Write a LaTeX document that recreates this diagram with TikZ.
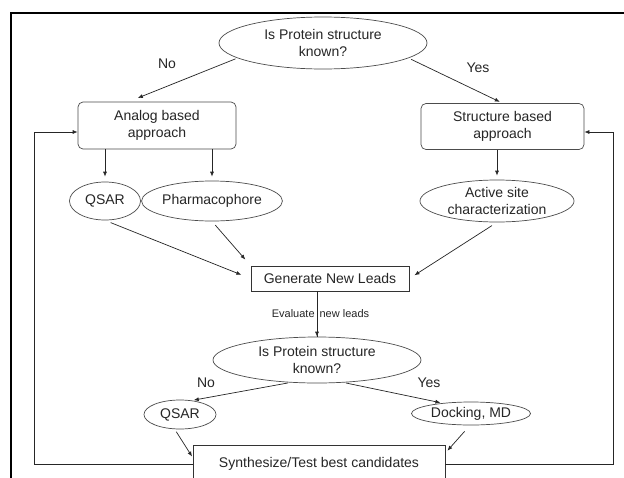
\documentclass[tikz,border=0pt]{standalone}
\usepackage{fontspec}
\setmainfont{Liberation Sans}
\usetikzlibrary{shapes.geometric,arrows.meta,calc}
\begin{document}
\begin{tikzpicture}[x=1pt,y=-1pt,
 every node/.style={font=\fontsize{14}{17}\selectfont, text=black!85},
 ell/.style={ellipse, draw=black!70, line width=0.7pt, inner sep=0pt, align=center},
 rbox/.style={rectangle, rounded corners=5pt, draw=black!70, line width=0.7pt, align=center, inner sep=0pt},
 sbox/.style={rectangle, draw=black!80, line width=0.8pt, inner sep=0pt},
 arr/.style={draw=black!85, line width=0.7pt, -{Latex[length=5pt,width=4pt]}},
 lbl/.style={font=\fontsize{14}{17}\selectfont},
 small/.style={font=\fontsize{11}{13}\selectfont, fill=white, inner sep=1pt},
]
\useasboundingbox (0,0) rectangle (624,477);
\clip (0,0) rectangle (624,477);
\fill[white] (0,0) rectangle (624,477);
\draw[line width=2pt, black] (11,490) -- (11,13) -- (640,13);

% nodes
\node[ell, minimum width=208pt, minimum height=52pt] (q1) at (323,43) {Is Protein structure\\known?};
\node[rbox, minimum width=158pt, minimum height=47pt] (analog) at (157,125.5) {Analog based\\approach};
\node[rbox, minimum width=163pt, minimum height=46pt] (struct) at (502.5,126.5) {Structure based\\approach};
\node[ell, minimum width=71pt, minimum height=38pt] (qsar1) at (105,201) {QSAR};
\node[ell, minimum width=130pt, minimum height=40pt] (pharm) at (212,201) {Pharmacophore};
\node[ell, minimum width=154pt, minimum height=42pt] (active) at (497,201) {Active site\\characterization};
\node[sbox, minimum width=158pt, minimum height=25pt] (gen) at (330,278.5) {Generate New Leads};
\node[ell, minimum width=208pt, minimum height=46pt] (q2) at (317,360) {Is Protein structure\\known?};
\node[ell, minimum width=72pt, minimum height=29pt] (qsar2) at (180,414.5) {QSAR};
\node[ell, minimum width=119pt, minimum height=23pt] (dock) at (471,413.5) {Docking, MD};
\node[sbox, minimum width=252pt, minimum height=38pt] (synth) at (319,464) {Synthesize/Test best candidates};

\coordinate (fbL) at (34,132);
\coordinate (fbR) at (613,132);

% labels
\node[lbl] (no1) at (167,64) {No};
\node[lbl] (yes1) at (478,68) {Yes};
\node[lbl] (no2) at (206,383) {No};
\node[lbl] (yes2) at (429,383) {Yes};

% connectors
\draw[arr, shorten <=2pt, shorten >=10pt] (q1.190) -- (analog.140);
\draw[arr, shorten <=3pt, shorten >=3pt] (q1.-10) -- (struct.north);
\draw[arr, shorten >=5pt] (analog.south -| qsar1.north) -- (qsar1.north);
\draw[arr, shorten >=4pt] (analog.south -| pharm.north) -- (pharm.north);
\draw[arr, shorten >=4pt] (struct.south -| active.north) -- (active.north);
\draw[arr, shorten <=6pt, shorten >=10pt] (qsar1.south) -- (gen.west);
\draw[arr, shorten <=5pt, shorten >=8pt] (pharm.south) -- (gen.north west);
\draw[arr, shorten <=6pt, shorten >=6pt] (active.south) -- (gen.east);
\draw[arr] (gen.south -| q2.north) -- node[small, xshift=3.5pt] (evl) {Evaluate\hspace{5pt}new leads} (q2.north);
\draw[draw=black!85, line width=0.7pt] (gen.south -| q2.north) -- (q2.north);
\draw[arr, shorten <=2pt, shorten >=2pt] (q2.220) -- (qsar2.50);
\draw[arr, shorten <=2pt, shorten >=2pt] (q2.-40) -- (dock.160);
\draw[arr, shorten <=3pt, shorten >=1pt] (qsar2.250) -- (synth.177);
\draw[arr, shorten <=8pt, shorten >=3pt] (dock.265) -- (synth.5);
\draw[arr] (synth.west) -| (fbL) -- (fbL -| analog.west);
\draw[arr] (synth.east) -| (fbR) -- (fbR -| struct.east);
\end{tikzpicture}
\end{document}
